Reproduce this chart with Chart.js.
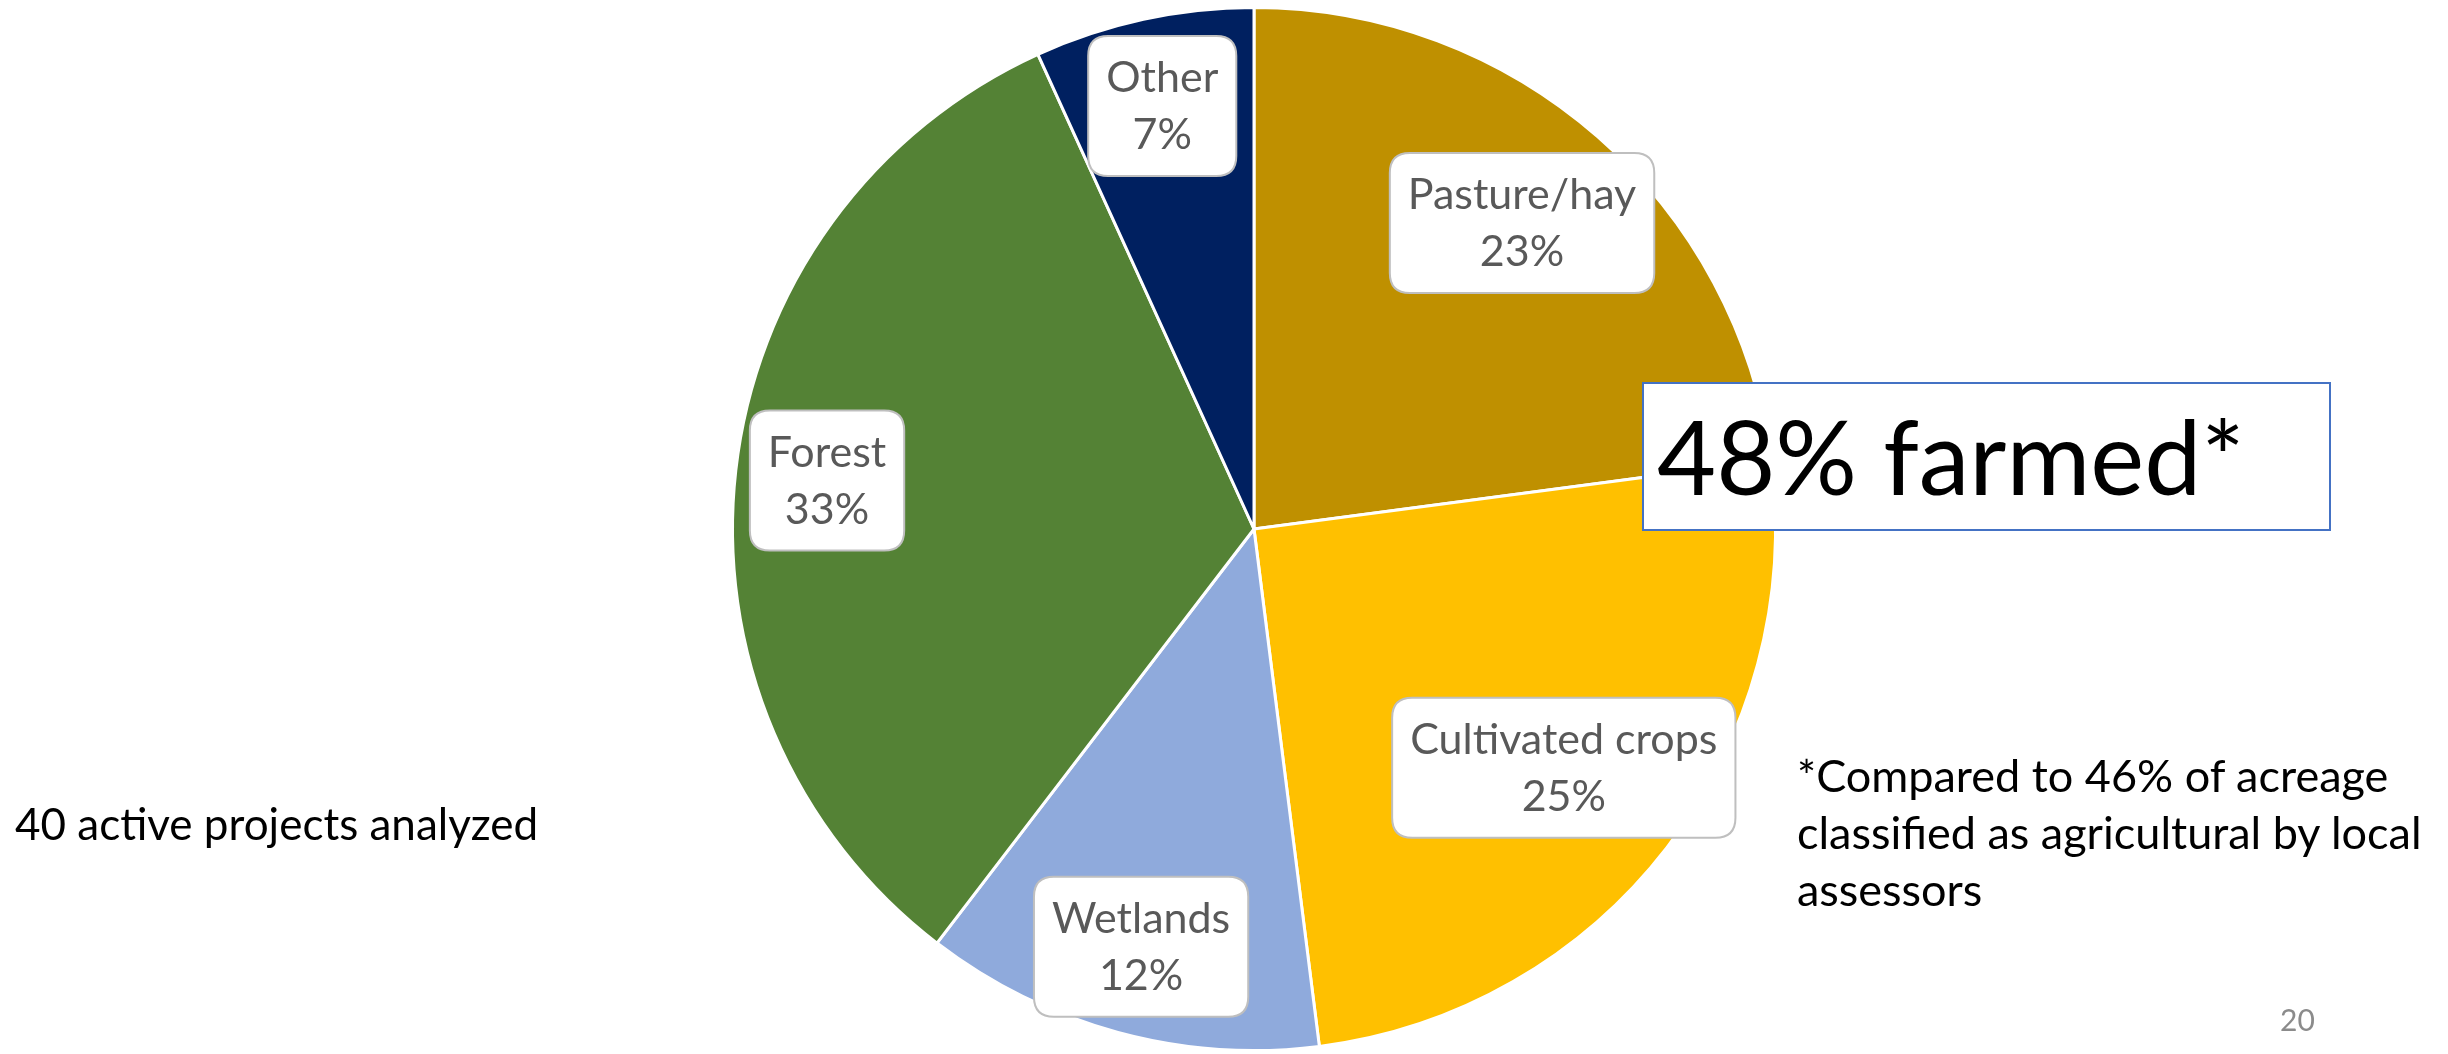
<!DOCTYPE html>
<html>
<head>
<meta charset="utf-8">
<script src="https://cdn.jsdelivr.net/npm/chart.js@4.4.0/dist/chart.umd.min.js"></script>
<style>
  html, body { margin: 0; padding: 0; background: #fff; }
  body { width: 2448px; height: 1054px; position: relative; overflow: hidden; font-family: Lato, "Open Sans", sans-serif; }
  #wrap { position: absolute; left: 0; top: 0; width: 2448px; height: 1054px; }
  .note { position: absolute; white-space: nowrap; line-height: 1.2; color: #000; }
  #projects { left: 15px; top: 797px; font-size: 44px; }
  #footnote { left: 1797px; top: 747px; font-size: 45px; line-height: 57px; }
  #farmed { position: absolute; left: 1642px; top: 382px; width: 689px; height: 149px; box-sizing: border-box;
            border: 2px solid #4472C4; background: #fff; }
  #farmed span { position: absolute; left: 13px; top: 11px; font-size: 102px; line-height: 1.2; white-space: nowrap; }
  #page { left: 2280px; top: 1001px; font-size: 30px; color: #8b8b8b; }
</style>
</head>
<body>
<div id="wrap"><canvas id="pie"></canvas></div>
<div class="note" id="projects">40 active projects analyzed</div>
<div id="farmed"><span>48% farmed*</span></div>
<div class="note" id="footnote">*Compared to 46% of acreage<br>classified as agricultural by local<br>assessors</div>
<div class="note" id="page">20</div>

<script>
// land use of analyzed projects, % of acreage
const categories = ['Pasture/hay', 'Cultivated crops', 'Wetlands', 'Forest', 'Other'];
const shares = [22.9, 25.1, 12.4, 32.8, 6.8];

const sliceColors = ['#BF9000', '#FFC000', '#8FAADC', '#548235', '#002060'];
// how far out (fraction of radius) each callout sits
const labelRadius = [0.78, 0.75, 0.83, 0.824, 0.83];

function roundRect(ctx, x, y, w, h, r) {
  ctx.beginPath();
  ctx.moveTo(x + r, y);
  ctx.lineTo(x + w - r, y);
  ctx.quadraticCurveTo(x + w, y, x + w, y + r);
  ctx.lineTo(x + w, y + h - r);
  ctx.quadraticCurveTo(x + w, y + h, x + w - r, y + h);
  ctx.lineTo(x + r, y + h);
  ctx.quadraticCurveTo(x, y + h, x, y + h - r);
  ctx.lineTo(x, y + r);
  ctx.quadraticCurveTo(x, y, x + r, y);
  ctx.closePath();
}

// Excel-like callout boxes with name + percent
const calloutPlugin = {
  id: 'callouts',
  afterDatasetsDraw(chart) {
    const ctx = chart.ctx;
    const meta = chart.getDatasetMeta(0);
    ctx.save();
    ctx.font = '43px Lato, "Open Sans", sans-serif';
    meta.data.forEach((arc, i) => {
      const p = arc.getProps(['x', 'y', 'startAngle', 'endAngle', 'outerRadius'], true);
      const mid = (p.startAngle + p.endAngle) / 2;
      const r = p.outerRadius * labelRadius[i];
      const cx = p.x + Math.cos(mid) * r;
      const cy = p.y + Math.sin(mid) * r;
      const line1 = categories[i];
      const line2 = Math.round(shares[i]) + '%';
      const tw = Math.max(ctx.measureText(line1).width, ctx.measureText(line2).width);
      const w = tw + 36;
      const h = 140;
      roundRect(ctx, cx - w / 2, cy - h / 2, w, h, 20);
      ctx.fillStyle = '#fff';
      ctx.fill();
      ctx.lineWidth = 2;
      ctx.strokeStyle = '#bfbfbf';
      ctx.stroke();

      ctx.fillStyle = '#595959';
      ctx.textAlign = 'center';
      ctx.textBaseline = 'alphabetic';
      ctx.fillText(line1, cx, cy - 14);
      ctx.fillText(line2, cx, cy + 43);
    });
    ctx.restore();
  },
};

const ctx = document.getElementById('pie').getContext('2d');
new Chart(ctx, {
  type: 'pie',
  data: {
    labels: categories,
    datasets: [{
      data: shares,
      backgroundColor: sliceColors,
      borderColor: '#ffffff',
      borderWidth: 3,
    }],
  },
  options: {
    responsive: true,
    maintainAspectRatio: false,
    animation: false,
    layout: { padding: { left: 731, right: 671, top: 6, bottom: 2 } },
    plugins: {
      legend: { display: false },
      tooltip: { enabled: false },
    },
  },
  plugins: [calloutPlugin],
});
</script>
</body>
</html>
